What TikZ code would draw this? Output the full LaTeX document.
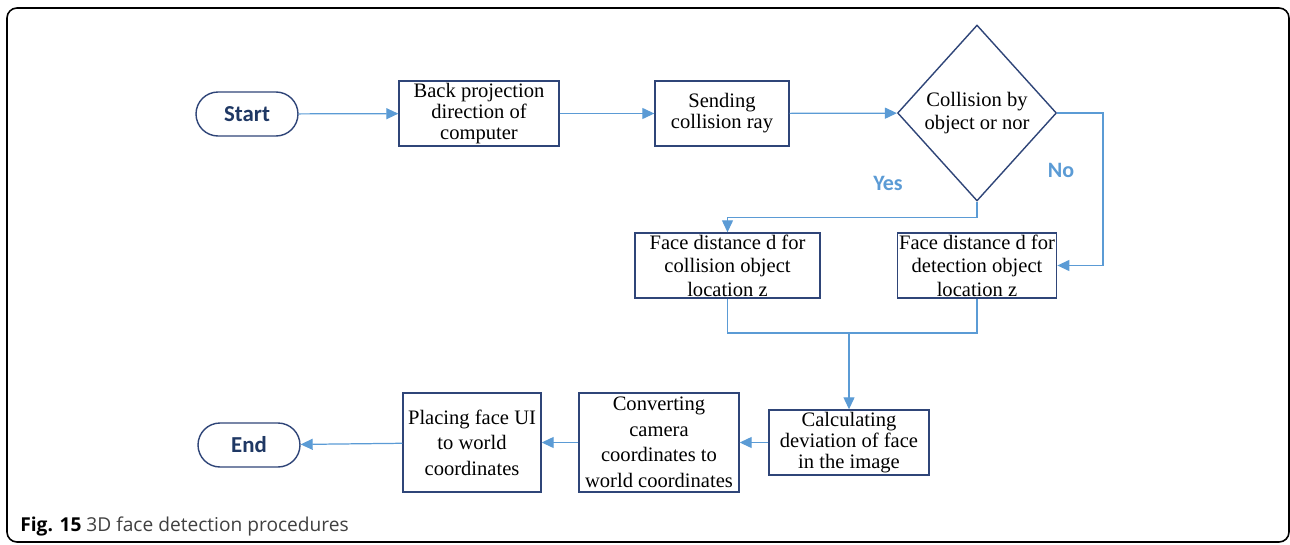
\documentclass[tikz,border=0pt]{standalone}
\usepackage{fontspec}
\setmainfont{Liberation Serif}
\newfontfamily\calib{Carlito}
\newfontfamily\capfont{Open Sans}
\usepackage{tikz}
\usetikzlibrary{positioning,arrows.meta,shapes.geometric}
\usepackage{xcolor}

\definecolor{boxline}{RGB}{47,69,120}
\definecolor{flowblue}{RGB}{91,155,213}
\definecolor{termtext}{RGB}{31,56,100}

\begin{document}
\begin{tikzpicture}[x=0.02cm, y=-0.02cm, >={Triangle[length=2.4mm,width=2.2mm]},
    procbox/.style={rectangle, draw=boxline, line width=0.8pt, align=center,
      inner sep=1pt, font=\fontsize{11.7}{12}\selectfont},
    termnode/.style={rectangle, rounded corners=0.44cm, draw=boxline, line width=0.8pt,
      minimum width=2.04cm, minimum height=0.88cm, text=termtext,
      font=\calib\bfseries\fontsize{13}{14}\selectfont},
    decide/.style={diamond, draw=boxline, line width=0.8pt, align=center,
      minimum width=3.18cm, minimum height=3.52cm, inner sep=0pt,
      font=\fontsize{11.7}{13.5}\selectfont},
    flow/.style={draw=flowblue, line width=0.7pt},
    answer/.style={text=flowblue, font=\calib\bfseries\fontsize{12.5}{14}\selectfont}]

\useasboundingbox (0,0) rectangle (1290,544);
\draw[line width=0.9pt, rounded corners=0.2cm] (7,8) rectangle (1289,542);

% upper row
\node[termnode] (start) at (247,114) {Start};
\node[procbox, minimum width=3.2cm, minimum height=1.3cm] (back) at (479,113.5)
  {Back projection\\direction of\\computer};
\node[procbox, minimum width=2.68cm, minimum height=1.3cm] (ray) at (722,113.5)
  {Sending\\collision ray};
\node[decide] (hit) at (977,113) {Collision by\\object or nor};

% middle row
\node[procbox, minimum width=3.7cm, minimum height=1.3cm,
  font=\fontsize{11.7}{13.3}\selectfont] (dcol) at (727.5,265.5)
  {Face distance d for\\collision object\\location z};
\node[procbox, minimum width=3.16cm, minimum height=1.3cm,
  font=\fontsize{11.7}{13.3}\selectfont] (ddet) at (977,265.5)
  {Face distance d for\\detection object\\location z};

% lower row
\node[procbox, minimum width=3.2cm, minimum height=1.3cm] (devi) at (849,442.5)
  {Calculating\\deviation of face\\in the image};
\node[procbox, minimum width=3.2cm, minimum height=1.98cm,
  font=\fontsize{11.7}{14.5}\selectfont] (conv) at (659,442.5)
  {Converting\\camera\\coordinates to\\world coordinates};
\node[procbox, minimum width=2.76cm, minimum height=1.98cm,
  font=\fontsize{11.7}{14.5}\selectfont] (place) at (472,442.5)
  {Placing face UI\\to world\\coordinates};
\node[termnode] (end) at (249,445) {End};

\node[answer] (yes) at (888,183) {Yes};
\node[answer] (no) at (1061,170) {No};

\coordinate (turn) at (1103,113);
\coordinate (mg) at (849,333);

\draw[flow,->] (start) -- (back);
\draw[flow,->] (back) -- (ray);
\draw[flow,->] (ray) -- (hit);
\draw[flow,->] (hit.south) -- ++(0,16) -| (dcol.north);
\draw[flow,->] (hit.east) -- (turn) |- (ddet.east);
\draw[flow] (dcol.south) |- (mg);
\draw[flow] (ddet.south) |- (mg);
\draw[flow,->] (mg) -- (devi.north);
\draw[flow,->] (devi) -- (conv);
\draw[flow,->] (conv) -- (place);
\draw[flow,->] (place) -- (end);

\node[anchor=base west, inner sep=0pt, font=\capfont\fontsize{10.9}{12}\selectfont]
  (caption) at (20,531) {\textbf{Fig. 15} \textcolor{black!75}{3D face detection procedures}};
\end{tikzpicture}
\end{document}
